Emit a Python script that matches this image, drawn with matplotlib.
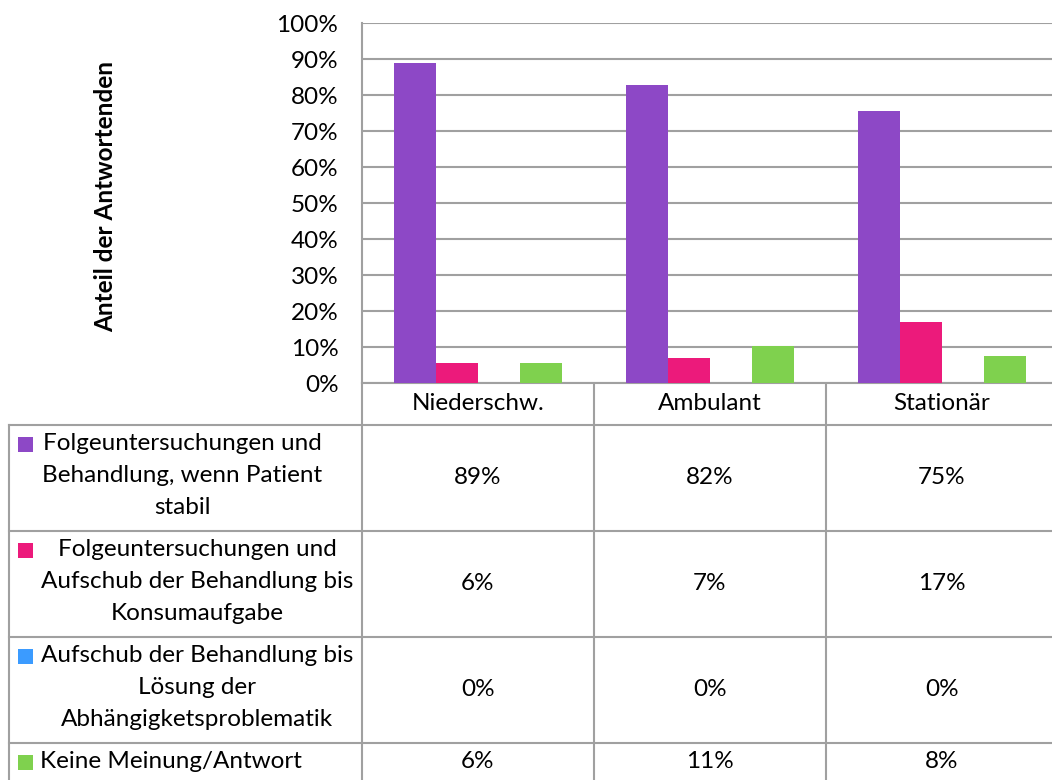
import matplotlib
matplotlib.use("Agg")
import matplotlib.pyplot as plt
from matplotlib.patches import Rectangle
from matplotlib.lines import Line2D

# ---- data ----
categories = ["Niederschw.", "Ambulant", "Stationär"]
series_names = [
    "Folgeuntersuchungen und Behandlung, wenn Patient stabil",
    "Folgeuntersuchungen und Aufschub der Behandlung bis Konsumaufgabe",
    "Aufschub der Behandlung bis Lösung der Abhängigketsproblematik",
    "Keine Meinung/Antwort",
]
label_lines = [
    ["Folgeuntersuchungen und", "Behandlung, wenn Patient", "stabil"],
    ["Folgeuntersuchungen und", "Aufschub der Behandlung bis", "Konsumaufgabe"],
    ["Aufschub der Behandlung bis", "Lösung der", "Abhängigketsproblematik"],
    ["Keine Meinung/Antwort"],
]
values_stabil = [88.9, 82.8, 75.5]
values_aufschub_konsum = [5.6, 6.9, 17.0]
values_aufschub_loesung = [0.0, 0.0, 0.0]
values_keine = [5.6, 10.3, 7.5]
series_values = [values_stabil, values_aufschub_konsum,
                 values_aufschub_loesung, values_keine]
table_labels = [["89%", "82%", "75%"],
                ["6%", "7%", "17%"],
                ["0%", "0%", "0%"],
                ["6%", "11%", "8%"]]
colors = ["#8D48C6", "#EC1A7B", "#3B9BFF", "#7FD14E"]
yticks = list(range(0, 101, 10))
ylabel = "Anteil der Antwortenden"

FONT = "Lato"
FS = 17.5
W, H = 1052, 780
fig = plt.figure(figsize=(W / 100, H / 100), dpi=100)
GRID = "#a0a0a0"

def fx(px):
    return px / W

def fy(py):
    return 1 - py / H

# ---- main axes ----
ax_left, ax_top, ax_bottom = 362, 23, 383
cat_w = 232
ax = fig.add_axes([fx(ax_left), fy(ax_bottom), (3 * cat_w) / W, (ax_bottom - ax_top) / H])
ax.set_xlim(-0.5, 2.5)
ax.set_ylim(0, 100)
bw = 42 / cat_w
for i, (vals, c) in enumerate(zip(series_values, colors)):
    xs = [k + (i - 1.5) * bw for k in range(len(categories))]
    ax.bar(xs, vals, width=bw, color=c, zorder=3, linewidth=0)
ax.set_yticks(yticks)
ax.set_yticklabels([f"{t}%" for t in yticks], fontfamily=FONT, fontsize=FS)
ax.tick_params(axis="y", length=0, pad=17)
ax.set_xticks([])
ax.yaxis.grid(True, color=GRID, linewidth=1.5, zorder=0)
for s in ["top", "right"]:
    ax.spines[s].set_visible(False)
for s in ["left", "bottom"]:
    ax.spines[s].set_color(GRID)
    ax.spines[s].set_linewidth(1.5)
ax.set_axisbelow(True)

fig.text(fx(106), fy(196), ylabel, rotation=90, ha="center", va="center",
         fontfamily=FONT, fontweight="bold", fontsize=FS)

# ---- table overlay ----
ov = fig.add_axes([0, 0, 1, 1], zorder=-1)
ov.set_xlim(0, W)
ov.set_ylim(H, 0)
ov.axis("off")

col_x = [ax_left + k * cat_w for k in range(4)]
row_y = [425, 531, 637, 743, 849]

def line(x0, y0, x1, y1):
    ov.add_line(Line2D([x0, x1], [y0, y1], color=GRID, linewidth=1.5))

for xv in col_x:
    line(xv, ax_bottom, xv, H + 5)
line(9, row_y[0], 9, H + 5)
for yv in row_y[:4]:
    line(9, yv, W + 5, yv)

# header
for k, cat in enumerate(categories):
    ov.text(col_x[k] + cat_w / 2, 404, cat, ha="center", va="center",
            fontfamily=FONT, fontsize=FS)

row_centers = [182, 197, 197, None]
line_y0 = [444, 550, 656, 762]
for r in range(4):
    ov.add_patch(Rectangle((18, line_y0[r] - 7.5), 15, 15, color=colors[r], linewidth=0))
    for j, ln in enumerate(label_lines[r]):
        yy = line_y0[r] + 32 * j
        if row_centers[r] is None:
            ov.text(40, yy, ln, ha="left", va="center", fontfamily=FONT, fontsize=FS)
        else:
            ov.text(row_centers[r], yy, ln, ha="center", va="center",
                    fontfamily=FONT, fontsize=FS)
    yc = (row_y[r] + row_y[r + 1]) / 2 if r < 3 else 762
    for k in range(3):
        ov.text(col_x[k] + cat_w / 2, yc, table_labels[r][k], ha="center", va="center",
                fontfamily=FONT, fontsize=FS)

fig.savefig("out.png", dpi=100, facecolor="white")
